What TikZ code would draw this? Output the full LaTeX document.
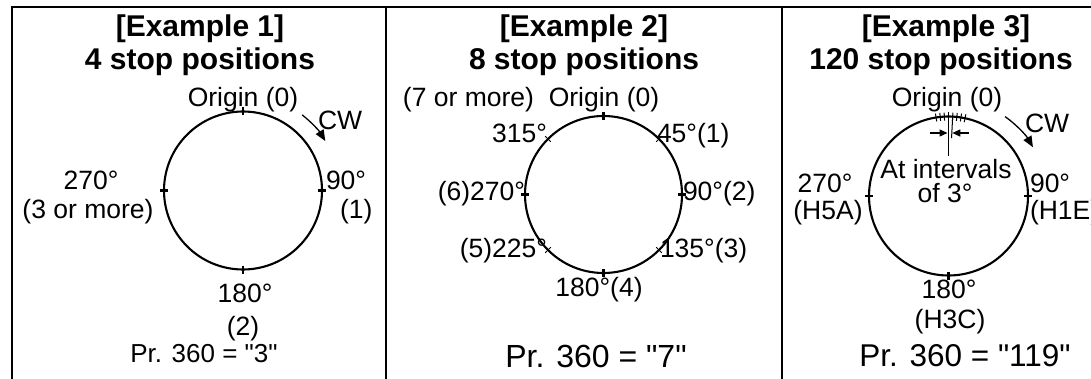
\documentclass[tikz,border=0pt]{standalone}
\usepackage{fontspec}
\setmainfont{Liberation Sans}[Ligatures=TeXOff]
\usetikzlibrary{arrows.meta,calc}

\begin{document}
\begin{tikzpicture}[x=1pt,y=-1pt,
  lbl/.style={font=\fontsize{26.5}{30}\selectfont, inner sep=0pt, outer sep=0pt},
  ttl/.style={font=\bfseries\fontsize{30}{34}\selectfont, inner sep=0pt, outer sep=0pt},
  prm/.style={inner sep=0pt, outer sep=0pt},
  frame/.style={line width=2pt},
  ring/.style={line width=2.1pt},
  bigtick/.style={line width=2.2pt},
  smalltick/.style={line width=1pt},
  cwarrow/.style={line width=1.3pt, -{Triangle[length=11pt,width=9pt]}},
  dimarrow/.style={line width=1.2pt, -{Triangle[length=8pt,width=7pt]}},
]
\useasboundingbox (0,0) rectangle (1091,379);
\clip (0,0) rectangle (1091,379);

% table frame
\draw[frame] (12,381) -- (12,7) -- (1093,7);
\draw[frame] (386,7) -- (386,381);
\draw[frame] (782,7) -- (782,381);

% ---------- Example 1 ----------
\coordinate (c1) at (243,190.5);
\node[ttl, anchor=base] (t1a) at (200,37) {[Example 1]};
\node[ttl, anchor=base] (t1b) at (200,70) {4 stop positions};
\draw[ring] (c1) circle[radius=79];
\foreach \a in {-90,0,90,180}
  \draw[bigtick] ($(c1)+(\a:75)$) -- ($(c1)+(\a:83)$);
\node[lbl, anchor=base] (o1) at (243,107) {Origin (0)};
\node[lbl, anchor=base west] (cw1) at (318,130) {CW};
\coordinate (cw1s) at ($(c1)+(-52:96)$);
\draw[cwarrow] (cw1s) arc[start angle=-52, end angle=-31, radius=96];
\node[lbl, anchor=base] (l1a) at (91,190) {270°};
\node[lbl, anchor=base] (l1b) at (88,219) {(3 or more)};
\node[lbl, anchor=base west] (r1a) at (326,190) {90°};
\node[lbl, anchor=base west] (r1b) at (340,219) {(1)};
\node[lbl, anchor=base] (b1a) at (245,302) {180°};
\node[lbl, anchor=base] (b1b) at (243,335) {(2)};
\node[prm, font=\fontsize{26}{30}\selectfont, anchor=base] (p1) at (204,362) {Pr. 360 = "3"};

% ---------- Example 2 ----------
\coordinate (c2) at (603.5,194.5);
\node[ttl, anchor=base] (t2a) at (584,37) {[Example 2]};
\node[ttl, anchor=base] (t2b) at (584,70) {8 stop positions};
\draw[ring] (c2) circle[radius=78.5];
\foreach \a in {-90,0,90,180}
  \draw[bigtick] ($(c2)+(\a:74.5)$) -- ($(c2)+(\a:82.5)$);
\foreach \a in {-45,45,135,225}
  \draw[smalltick] ($(c2)+(\a:74.5)$) -- ($(c2)+(\a:82.5)$);
\node[lbl, anchor=base] (o2) at (604,107) {Origin (0)};
\node[lbl, anchor=base east] (m2) at (534,107) {(7 or more)};
\node[lbl, anchor=base east] (a315) at (547,143) {315°};
\node[lbl, anchor=base west] (a45) at (657,143) {45°(1)};
\node[lbl, anchor=base east] (a270) at (525,201) {(6)270°};
\node[lbl, anchor=base west] (a90) at (683,201) {90°(2)};
\node[lbl, anchor=base east] (a225) at (547,257) {(5)225°};
\node[lbl, anchor=base west] (a135) at (660,257) {135°(3)};
\node[lbl, anchor=base] (a180) at (599,296) {180°(4)};
\node[prm, font=\fontsize{32}{36}\selectfont, anchor=base] (p2) at (596,367) {Pr. 360 = "7"};

% ---------- Example 3 ----------
\coordinate (c3) at (948.5,196);
\node[ttl, anchor=base] (t3a) at (946,37) {[Example 3]};
\node[ttl, anchor=base] (t3b) at (941,70) {120 stop positions};
\draw[ring] (c3) circle[radius=79.5];
\foreach \a in {0,90,180}
  \draw[bigtick] ($(c3)+(\a:75.5)$) -- ($(c3)+(\a:83.5)$);
% fine graduation every 3 degrees near the origin
\foreach \k in {-3,...,4}
  \draw[smalltick] ($(c3)+(-90+3*\k:75.5)$) -- ($(c3)+(-90+3*\k:83.5)$);
% extension lines of two neighbouring graduations
\coordinate (e0a) at ($(c3)+(-90:79.5)$);
\coordinate (e0b) at ($(c3)+(-90:40)$);
\coordinate (e1a) at ($(c3)+(-87:79.5)$);
\coordinate (e1b) at ($(c3)+(-87:58)$);
\draw[line width=1.6pt] (e0a) -- (e0b);
\draw[line width=1pt] (e1a) -- (e1b);
\coordinate (dl) at (930,133);
\coordinate (dlt) at (947.5,133);
\coordinate (dr) at (969,133);
\coordinate (drt) at (952.3,133);
\draw[dimarrow] (dl) -- (dlt);
\draw[dimarrow] (dr) -- (drt);
\node[lbl, anchor=base] (o3) at (947,107) {Origin (0)};
\node[lbl, anchor=base west] (cw3) at (1025,133) {CW};
\coordinate (cw3s) at ($(c3)+(-54.5:97.5)$);
\draw[cwarrow] (cw3s) arc[start angle=-54.5, end angle=-30, radius=97.5];
\node[lbl, anchor=base] (i3a) at (946,179) {At intervals};
\node[lbl, anchor=base] (i3b) at (945,203) {of 3°};
\node[lbl, anchor=base] (l3a) at (825,193) {270°};
\node[lbl, anchor=base] (l3b) at (828,220) {(H5A)};
\node[lbl, anchor=base west] (r3a) at (1030,193) {90°};
\node[lbl, anchor=base west] (r3b) at (1030,220) {(H1E)};
\node[lbl, anchor=base] (b3a) at (949,298) {180°};
\node[lbl, anchor=base] (b3b) at (950,328) {(H3C)};
\node[prm, font=\fontsize{31.5}{35}\selectfont, anchor=base] (p3) at (965,366) {Pr. 360 = "119"};
\end{tikzpicture}
\end{document}
